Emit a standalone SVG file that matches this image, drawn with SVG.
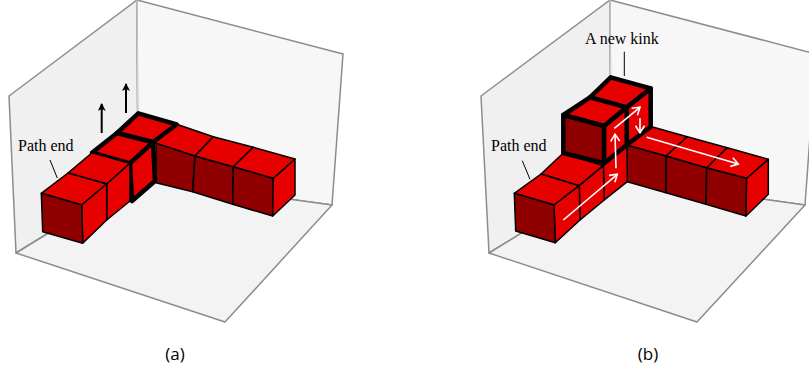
<svg xmlns="http://www.w3.org/2000/svg" width="809" height="376" viewBox="0 0 809 376">
<style>
.lw{fill:#f0f0f0;stroke:#8c8c8c;stroke-width:1.5;stroke-linejoin:round}
.rw{fill:#f7f7f7;stroke:#8c8c8c;stroke-width:1.5;stroke-linejoin:round}
.fl{fill:#f3f3f3;stroke:#8c8c8c;stroke-width:1.5;stroke-linejoin:round}
.ed{fill:none;stroke:#d8d8d8;stroke-width:1}
.t{fill:#e60000;stroke:#000;stroke-width:1.5;stroke-linejoin:round}
.d{fill:#900000;stroke:#000;stroke-width:1.5;stroke-linejoin:round}
.tb{fill:#e60000;stroke:#000;stroke-width:4.5;stroke-linejoin:round}
.db{fill:#900000;stroke:#000;stroke-width:4.5;stroke-linejoin:round}
.l{stroke:#000;stroke-width:1;fill:none}
.ba{stroke:#000;stroke-width:2;fill:none}
.wa{stroke:#fff;stroke-width:1.6;fill:none;marker-end:url(#wh)}
text{font-family:"Liberation Serif",serif;font-size:16px;fill:#000}
.cap{font-family:"Open Sans","DejaVu Sans",sans-serif;font-size:17px;text-anchor:middle}
</style>
<defs>
<marker id="bh" markerUnits="userSpaceOnUse" markerWidth="10" markerHeight="10" refX="7" refY="4" orient="auto"><path d="M0,0L8,4L0,8L2,4Z" fill="#000"/></marker>
<marker id="wh" markerUnits="userSpaceOnUse" markerWidth="12" markerHeight="12" refX="8" refY="6" orient="auto"><path d="M1,1.5L8,6L1,10.500" fill="none" stroke="#fff" stroke-width="1.600"/></marker>
</defs>
<g id="box-a">
<polygon class="lw" points="9,96 137,0 138,178 16,253"/>
<polygon class="rw" points="137,0 343,54 332,205 138,178"/>
<polygon class="fl" points="16,253 138,178 332,205 225,322"/>
<path class="ed" d="M137,0L138,178"/>
</g>
<g id="box-b">
<polygon class="lw" points="481,96 610,0 611,178 489,253"/>
<polygon class="rw" points="610,0 816,54 805,205 611,178"/>
<polygon class="fl" points="489,253 611,178 805,205 697,322"/>
<path class="ed" d="M610,0L611,178"/>
</g>
<g id="path-a">
<polygon class="d" points="156,140 195,156 192.700,191.700 156,182.700"/>
<polygon class="d" points="195,156 233.300,166.700 232.700,204.300 192.700,191.700"/>
<polygon class="d" points="233.300,166.700 273.300,178.300 272.700,216 232.700,204.300"/>
<polygon class="t" points="273.300,178.300 295,159 295,195 272.700,216"/>
<polygon class="t" points="176.700,124.300 213.300,136.700 195,156 153,142.300"/>
<polygon class="t" points="213.300,136.700 253.300,147.300 233.300,166.700 195,156"/>
<polygon class="t" points="253.300,147.300 295,159 273.300,178.300 233.300,166.700"/>
<polygon class="tb" points="138.300,113.300 176.700,124.300 153,142.300 117,133"/>
<polygon class="tb" points="117,133 153,142.300 130,163.300 92,152.700"/>
<polygon class="tb" points="130,163.300 153,142.300 155,181 132,201"/>
<polygon class="t" points="92,152.700 130,163.300 106.700,184 68,173"/>
<polygon class="t" points="106.700,184 130,163.300 130,201 106.700,220"/>
<polygon class="t" points="68,173 106.700,184 81.700,205 41.300,193.300"/>
<polygon class="t" points="81.700,205 106.700,184 106.700,220 82.700,243.300"/>
<polygon class="d" points="41.300,193.300 81.700,205 82.700,243.300 42.700,231.700"/>
</g>
<g id="path-b">
<polygon class="d" points="627,145 666,156 666,192.700 627.300,181.700"/>
<polygon class="d" points="666,156 706.700,167.700 706,204.300 666,192.700"/>
<polygon class="d" points="706.700,167.700 746.700,178.300 746,216 706,204.300"/>
<polygon class="t" points="746.700,178.300 768.300,159.300 768.300,194.300 746,216"/>
<polygon class="t" points="651.700,126.700 687.300,136.700 666,156 627,145"/>
<polygon class="t" points="687.300,136.700 727.300,147.700 706.700,167.700 666,156"/>
<polygon class="t" points="727.300,147.700 768.300,159.300 746.700,178.300 706.700,167.700"/>
<polygon class="t" points="603.300,165.700 627,145 627.300,181.700 604.300,200"/>
<polygon class="t" points="563.300,153 603.300,165.700 579.300,185.700 541,174"/>
<polygon class="t" points="579.300,185.700 603.300,165.700 604.300,200 580,220"/>
<polygon class="t" points="541,174 579.300,185.700 554,205 514.300,193.300"/>
<polygon class="t" points="554,205 579.300,185.700 580,220 555.300,242.700"/>
<polygon class="d" points="514.300,193.300 554,205 555.300,242.700 515.700,231"/>
<polygon class="tb" points="626.700,107.300 650.700,88.300 650.700,126.700 626.700,145"/>
<polygon class="tb" points="604,126 626.700,107.300 626.700,145 604,163.300"/>
<polygon class="tb" points="610.700,77.300 650.700,88.300 626.700,107.300 590,97.300"/>
<polygon class="tb" points="590,97.300 626.700,107.300 604,126 563.300,115"/>
<polygon class="db" points="563.300,115 604,126 604,163.300 563.300,153"/>
</g>
<g id="connectors">
<path class="ba" marker-end="url(#bh)" d="M101.700,133V104"/>
<path class="ba" marker-end="url(#bh)" d="M126,113V84"/>
<path class="l" d="M50,160L57.300,178"/>
<path class="l" d="M522.300,160.700L530,179.300"/>
<path class="l" d="M624.300,51.700V76"/>
<path class="wa" d="M563.300,220L617.300,174.300"/>
<path class="wa" d="M616,168.300L615,134.300"/>
<path class="wa" d="M614.300,128.300L640,107.300"/>
<path class="wa" d="M640,118.300V132.700"/>
<path class="wa" d="M646.700,137.300L738.300,164"/>
</g>
<g id="labels">
<text x="18" y="151">Path end</text>
<text x="491" y="151">Path end</text>
<text x="585" y="44">A new kink</text>
<text class="cap" x="175" y="360">(a)</text>
<text class="cap" x="648" y="360">(b)</text>
</g>
</svg>
